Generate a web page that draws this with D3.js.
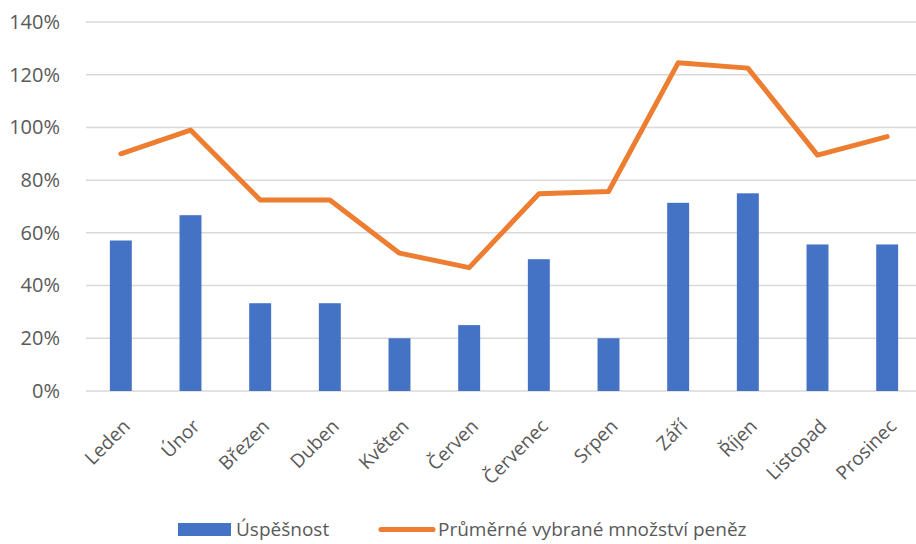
<!DOCTYPE html>
<html>
<head>
<meta charset="utf-8">
<script src="https://cdn.jsdelivr.net/npm/d3@7"></script>
<style>
  body { margin: 0; background: #fff; }
  svg text { font-family: "Open Sans", Lato, sans-serif; fill: #595959; }
</style>
</head>
<body>
<div id="chart"></div>
<script>
// chart data
const months = ['Leden', 'Únor', 'Březen', 'Duben', 'Květen', 'Červen',
    'Červenec', 'Srpen', 'Září', 'Říjen', 'Listopad', 'Prosinec'];
const successRate = [0.571, 0.667, 0.333, 0.333, 0.20, 0.25,
    0.50, 0.20, 0.714, 0.75, 0.556, 0.556];
const avgMoney = [0.90, 0.99, 0.725, 0.725, 0.523, 0.468,
    0.748, 0.757, 1.245, 1.225, 0.895, 0.965];
const yTicks = [0, 0.2, 0.4, 0.6, 0.8, 1.0, 1.2, 1.4];
const seriesNames = ['Úspěšnost', 'Průměrné vybrané množství peněz'];

const W = 916, H = 544;
const margin = { left: 86, right: -6, top: 22, bottom: 153 };

const svg = d3.select('#chart').append('svg')
    .attr('width', W)
    .attr('height', H);

const x = d3.scaleBand()
    .domain(months)
    .range([margin.left, W - margin.right]);

const y = d3.scaleLinear()
    .domain([0, 1.4])
    .range([H - margin.bottom, margin.top]);

// gridlines
svg.append('g')
    .selectAll('line')
    .data(yTicks)
    .join('line')
    .attr('x1', margin.left)
    .attr('x2', W)
    .attr('y1', d => y(d))
    .attr('y2', d => y(d))
    .attr('stroke', '#d9d9d9')
    .attr('stroke-width', 1.5);

// y axis labels
const yAxis = svg.append('g')
    .attr('transform', `translate(${margin.left - 23},0)`)
    .call(d3.axisLeft(y).tickValues(yTicks).tickFormat(d3.format('.0%')).tickSize(0));
yAxis.select('.domain').remove();
yAxis.selectAll('text')
    .attr('font-size', 20)
    .attr('font-family', '"Open Sans", Lato, sans-serif')
    .attr('fill', '#595959');

// bars
const barW = x.bandwidth() * 0.315;
svg.append('g')
    .selectAll('rect')
    .data(successRate)
    .join('rect')
    .attr('x', (d, i) => x(months[i]) + (x.bandwidth() - barW) / 2)
    .attr('y', d => y(d))
    .attr('width', barW)
    .attr('height', d => y(0) - y(d))
    .attr('fill', '#4472c4');

// line
const line = d3.line()
    .x((d, i) => x(months[i]) + x.bandwidth() / 2)
    .y(d => y(d));

svg.append('path')
    .datum(avgMoney)
    .attr('d', line)
    .attr('fill', 'none')
    .attr('stroke', '#ed7d31')
    .attr('stroke-width', 5)
    .attr('stroke-linejoin', 'round')
    .attr('stroke-linecap', 'round');

// x axis labels, rotated
svg.append('g')
    .selectAll('text')
    .data(months)
    .join('text')
    .attr('transform', d => `translate(${x(d) + x.bandwidth() / 2 + 1},${y(0) + 27}) rotate(-45)`)
    .attr('text-anchor', 'end')
    .attr('dy', '0.7em')
    .attr('font-size', 19)
    .text(d => d);

// legend
const legend = svg.append('g');
legend.append('rect')
    .attr('x', 178).attr('y', 523)
    .attr('width', 53).attr('height', 13)
    .attr('fill', '#4472c4');
legend.append('text')
    .attr('x', 236).attr('y', 536)
    .attr('font-size', 19)
    .text(seriesNames[0]);
legend.append('line')
    .attr('x1', 381).attr('x2', 433)
    .attr('y1', 529.5).attr('y2', 529.5)
    .attr('stroke', '#ed7d31')
    .attr('stroke-width', 5)
    .attr('stroke-linecap', 'round');
legend.append('text')
    .attr('x', 438).attr('y', 536)
    .attr('font-size', 19)
    .text(seriesNames[1]);
</script>
</body>
</html>
